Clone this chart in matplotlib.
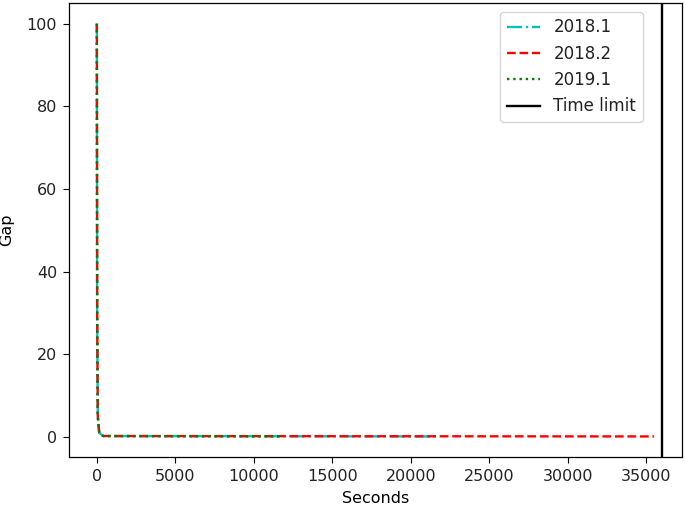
import matplotlib
matplotlib.use("Agg")
import matplotlib.pyplot as plt

# gap (%) over time (s) for each solver version
t_2018_1 = [0, 20, 60, 150, 400, 21600]
gap_2018_1 = [100, 30, 5, 1.0, 0.2, 0.1]
t_2018_2 = [0, 20, 60, 150, 400, 35500]
gap_2018_2 = [100, 30, 5, 1.0, 0.2, 0.1]
t_2019_1 = [0, 20, 60, 150, 400, 11650]
gap_2019_1 = [100, 30, 5, 1.0, 0.2, 0.1]
time_limit = 36000

plt.rcParams['font.size'] = 11.5
plt.rcParams['axes.linewidth'] = 0.9
plt.rcParams['xtick.major.size'] = 4
plt.rcParams['ytick.major.size'] = 4
plt.rcParams['xtick.major.pad'] = 4.5
plt.rcParams['ytick.major.pad'] = 4.5
plt.rcParams['text.color'] = '#222222'
plt.rcParams['xtick.labelcolor'] = '#222222'
plt.rcParams['ytick.labelcolor'] = '#222222'

fig, ax = plt.subplots(figsize=(6.85, 5.09), dpi=100)
lw = 1.7
ax.plot(t_2018_1, gap_2018_1, color='c', linestyle='-.', lw=lw, label='2018.1')
ax.plot(t_2018_2, gap_2018_2, color='r', linestyle='--', lw=lw, label='2018.2')
ax.plot(t_2019_1, gap_2019_1, color='g', linestyle=':', lw=lw, label='2019.1')
ax.axvline(time_limit, color='k', lw=lw, label='Time limit')

ax.set_xlabel('Seconds', labelpad=5)
ax.set_ylabel('Gap', labelpad=9)
ax.legend(loc='upper right', bbox_to_anchor=(0.936, 0.981), borderaxespad=0, fontsize=12)

plt.subplots_adjust(left=0.1007, right=0.9956, top=0.994, bottom=0.102)
fig.savefig('out.png')
